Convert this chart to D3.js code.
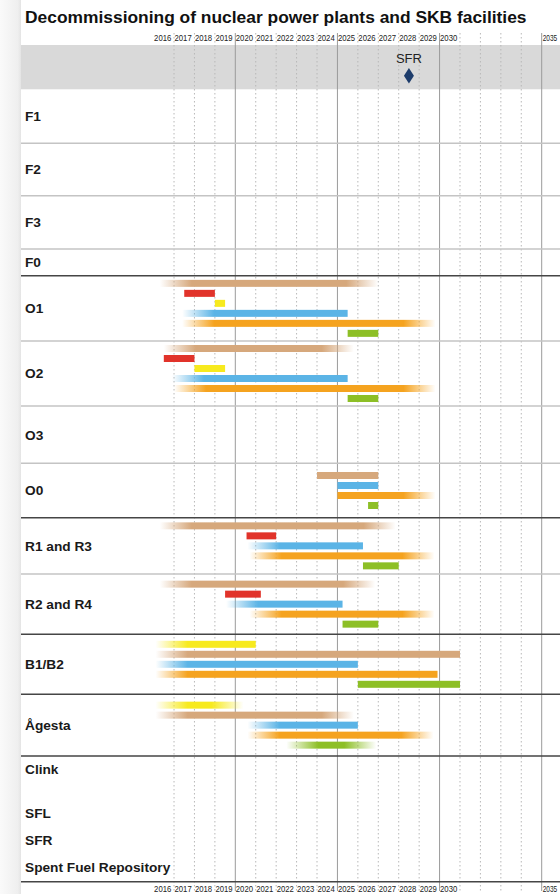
<!DOCTYPE html>
<html><head><meta charset="utf-8">
<script src="https://cdn.jsdelivr.net/npm/d3@7/dist/d3.min.js"></script>
<style>body{margin:0;background:#fff}svg{display:block}</style>
</head><body>
<svg id="chart" width="560" height="894"></svg>
<script>
// ---------------- data ----------------
const chartTitle = "Decommissioning of nuclear power plants and SKB facilities";
const gridYears = d3.range(2017, 2036);                 // year boundaries with grid lines
const majorYears = [2020, 2025, 2030, 2035];
const tickLabelYears = [2016,2017,2018,2019,2020,2021,2022,2023,2024,2025,2026,2027,2028,2029,2030,2035];
const rowNames = ["F1","F2","F3","F0","O1","O2","O3","O0","R1 and R3","R2 and R4","B1/B2","Ågesta","Clink","","SFL","SFR","Spent Fuel Repository"];
const rowRule  = ["thin","thin","thin","thick","thin","thin","thin","thick","thin","thick","thick","thick","none","none","none","none","thick"];
const phaseNames = ["tan","red","yellow","blue","orange","green"];
const phaseColors = ["#d6a87c","#e1332a","#f7ea1e","#5bb4e6","#f5a31f","#8dbf26"];
const milestoneNames = ["SFR"];
const milestoneYears = [2028.5];
// row, lane, phase, start year, end year, fade-in, fade-out
const bars = [
 ["O1",0,"tan",2016.3,2027.0,1,1],
 ["O1",1,"red",2017.5,2019.0,0,0],
 ["O1",2,"yellow",2019.0,2019.5,0,0],
 ["O1",3,"blue",2017.4,2025.5,1,0],
 ["O1",4,"orange",2017.4,2029.8,1,1],
 ["O1",5,"green",2025.5,2027.0,0,0],
 ["O2",0,"tan",2016.5,2025.8,1,1],
 ["O2",1,"red",2016.5,2018.0,0,0],
 ["O2",2,"yellow",2018.0,2019.5,0,0],
 ["O2",3,"blue",2016.9,2025.5,1,0],
 ["O2",4,"orange",2017.0,2029.8,1,1],
 ["O2",5,"green",2025.5,2027.0,0,0],
 ["O0",0,"tan",2024.0,2027.0,0,0],
 ["O0",1,"blue",2025.0,2027.0,0,0],
 ["O0",2,"orange",2025.0,2029.8,0,1],
 ["O0",3,"green",2026.5,2027.0,0,0],
 ["R1 and R3",0,"tan",2016.3,2027.85,1,1],
 ["R1 and R3",1,"red",2020.55,2022.0,0,0],
 ["R1 and R3",2,"blue",2020.6,2026.25,1,0],
 ["R1 and R3",3,"orange",2020.7,2029.75,1,1],
 ["R1 and R3",4,"green",2026.25,2028.0,0,0],
 ["R2 and R4",0,"tan",2016.3,2026.85,1,1],
 ["R2 and R4",1,"red",2019.5,2021.25,0,0],
 ["R2 and R4",2,"blue",2019.55,2025.25,1,0],
 ["R2 and R4",3,"orange",2020.7,2029.75,1,1],
 ["R2 and R4",4,"green",2025.25,2027.0,0,0],
 ["B1/B2",0,"yellow",2016.1,2021.0,1,0],
 ["B1/B2",1,"tan",2016.1,2031.0,1,0],
 ["B1/B2",2,"blue",2016.1,2026.0,1,0],
 ["B1/B2",3,"orange",2016.1,2029.9,1,0],
 ["B1/B2",4,"green",2026.0,2031.0,0,0],
 ["Ågesta",0,"yellow",2016.1,2020.4,1,1],
 ["Ågesta",1,"tan",2016.1,2025.8,1,1],
 ["Ågesta",2,"blue",2020.6,2026.0,1,0],
 ["Ågesta",3,"orange",2020.6,2029.7,1,1],
 ["Ågesta",4,"green",2022.5,2026.9,1,1]
];

// ---------------- layout ----------------
const W = 560, H = 894;
const panelLeft = 21;
const bandTop = 45, bandBottom = 89.3;
const rowEdges = [89.3,143.3,195.7,249,275.7,341,406,463.3,517.7,574,634.3,694.3,756,782,799,827,853,881.7];
const laneGap = 10, barH = 7, fadeLen = 32;

const svg = d3.select("#chart");
const defs = svg.append("defs");

const x = d3.scaleLinear().domain([2016, 2035]).range([153.6, 541.7]);
const color = d3.scaleOrdinal().domain(phaseNames).range(phaseColors);
const rowIndex = d3.scaleOrdinal().domain(rowNames).range(d3.range(rowNames.length));

// left shadow
const sh = defs.append("linearGradient").attr("id","shadow");
sh.append("stop").attr("offset",0).attr("stop-color","#fafafa");
sh.append("stop").attr("offset",0.85).attr("stop-color","#efefef");
sh.append("stop").attr("offset",1).attr("stop-color","#e4e4e4");
svg.append("rect").attr("x",0).attr("y",0).attr("width",panelLeft).attr("height",H).attr("fill","url(#shadow)");

// title
svg.append("text").attr("x",25).attr("y",23)
  .attr("font-family","Liberation Sans, Arial, sans-serif").attr("font-weight","bold")
  .attr("font-size",17.4).attr("fill","#111").text(chartTitle);

// band
svg.append("rect").attr("x",panelLeft).attr("y",bandTop).attr("width",W-panelLeft).attr("height",bandBottom-bandTop).attr("fill","#d9d9d9");

// grid lines
svg.append("g").selectAll("line").data(gridYears).join("line")
  .attr("x1",d=>x(d)).attr("x2",d=>x(d)).attr("y1",33).attr("y2",891)
  .attr("stroke",d=>majorYears.includes(d)?"#9a9a9a":"#b8b8b8")
  .attr("stroke-width",1)
  .attr("stroke-dasharray",d=>majorYears.includes(d)?null:"1.5,2.5");

// year labels (top and bottom), centred in each year cell; last one kept inside the frame
const lastYear = tickLabelYears[tickLabelYears.length-1];
function yearLabels(yPos){
  svg.append("g").selectAll("text").data(tickLabelYears).join("text")
    .attr("x",d=>d===lastYear ? x(d)+1 : x(d)+0.5+8.6)
    .attr("text-anchor",d=>d===lastYear ? "start" : "middle")
    .attr("y",yPos)
    .attr("font-family","Liberation Sans Narrow, Liberation Sans, Arial, sans-serif")
    .attr("font-size",d=>d===lastYear ? 8.4 : 9).attr("fill","#222")
    .attr("textLength",d=>d===lastYear ? 14.5 : 17.2).attr("lengthAdjust","spacingAndGlyphs")
    .text(d=>d);
}
yearLabels(40.7);
yearLabels(892);

// row rules
svg.append("g").selectAll("line").data(rowRule.map((r,i)=>({r,y:rowEdges[i+1]})).filter(d=>d.r!=="none")).join("line")
  .attr("x1",panelLeft).attr("x2",W).attr("y1",d=>d.y).attr("y2",d=>d.y)
  .attr("stroke",d=>d.r==="thick"?"#454545":"#c4c4c4")
  .attr("stroke-width",d=>d.r==="thick"?1.6:1.4);

// row labels
svg.append("g").selectAll("text").data(rowNames.map((n,i)=>({n,i})).filter(d=>d.n!=="")).join("text")
  .attr("x",25).attr("y",d=>(rowEdges[d.i]+rowEdges[d.i+1])/2)
  .attr("dy","0.36em")
  .attr("font-family","Liberation Sans, Arial, sans-serif").attr("font-weight","bold")
  .attr("font-size",13.7).attr("fill","#1a1a1a").text(d=>d.n);

// bars
const laneCounts = d3.rollup(bars, v=>d3.max(v,b=>b[1])+1, b=>b[0]);
const gBars = svg.append("g");
bars.forEach((b,i)=>{
  const [row,lane,phase,s,e,fi,fo] = b;
  const ri = rowIndex(row);
  const mid = (rowEdges[ri]+rowEdges[ri+1])/2;
  const n = laneCounts.get(row);
  const cy = mid + (lane-(n-1)/2)*laneGap;
  const x0 = x(s), x1 = x(e), w = x1-x0;
  const c = color(phase);
  let fill = c;
  if (fi || fo) {
    const id = "g"+i;
    const g = defs.append("linearGradient").attr("id",id).attr("gradientUnits","userSpaceOnUse")
      .attr("x1",x0).attr("x2",x1).attr("y1",0).attr("y2",0);
    const f = Math.min(fadeLen/w, 0.45);
    const stops = [];
    if (fi) { stops.push([0,0.0],[f*0.45,0.45],[f,1]); } else stops.push([0,1]);
    if (fo) { stops.push([1-f,1],[1-f*0.45,0.45],[1,0.0]); } else stops.push([1,1]);
    stops.forEach(([o,op])=>g.append("stop").attr("offset",o).attr("stop-color",c).attr("stop-opacity",op));
    fill = "url(#"+id+")";
  }
  gBars.append("rect").attr("x",x0).attr("y",cy-barH/2).attr("width",w).attr("height",barH).attr("fill",fill);
});

// milestones in band
milestoneNames.forEach((m,i)=>{
  const mx = x(milestoneYears[i]);
  svg.append("text").attr("x",mx).attr("y",63).attr("text-anchor","middle")
    .attr("font-family","Liberation Sans, Arial, sans-serif").attr("font-size",13).attr("fill","#222").text(m);
  svg.append("path").attr("d",d3.line()([[mx,68],[mx+5,75.8],[mx,83.6],[mx-5,75.8]])+"Z").attr("fill","#1d3c6b");
});
</script>
</body></html>
